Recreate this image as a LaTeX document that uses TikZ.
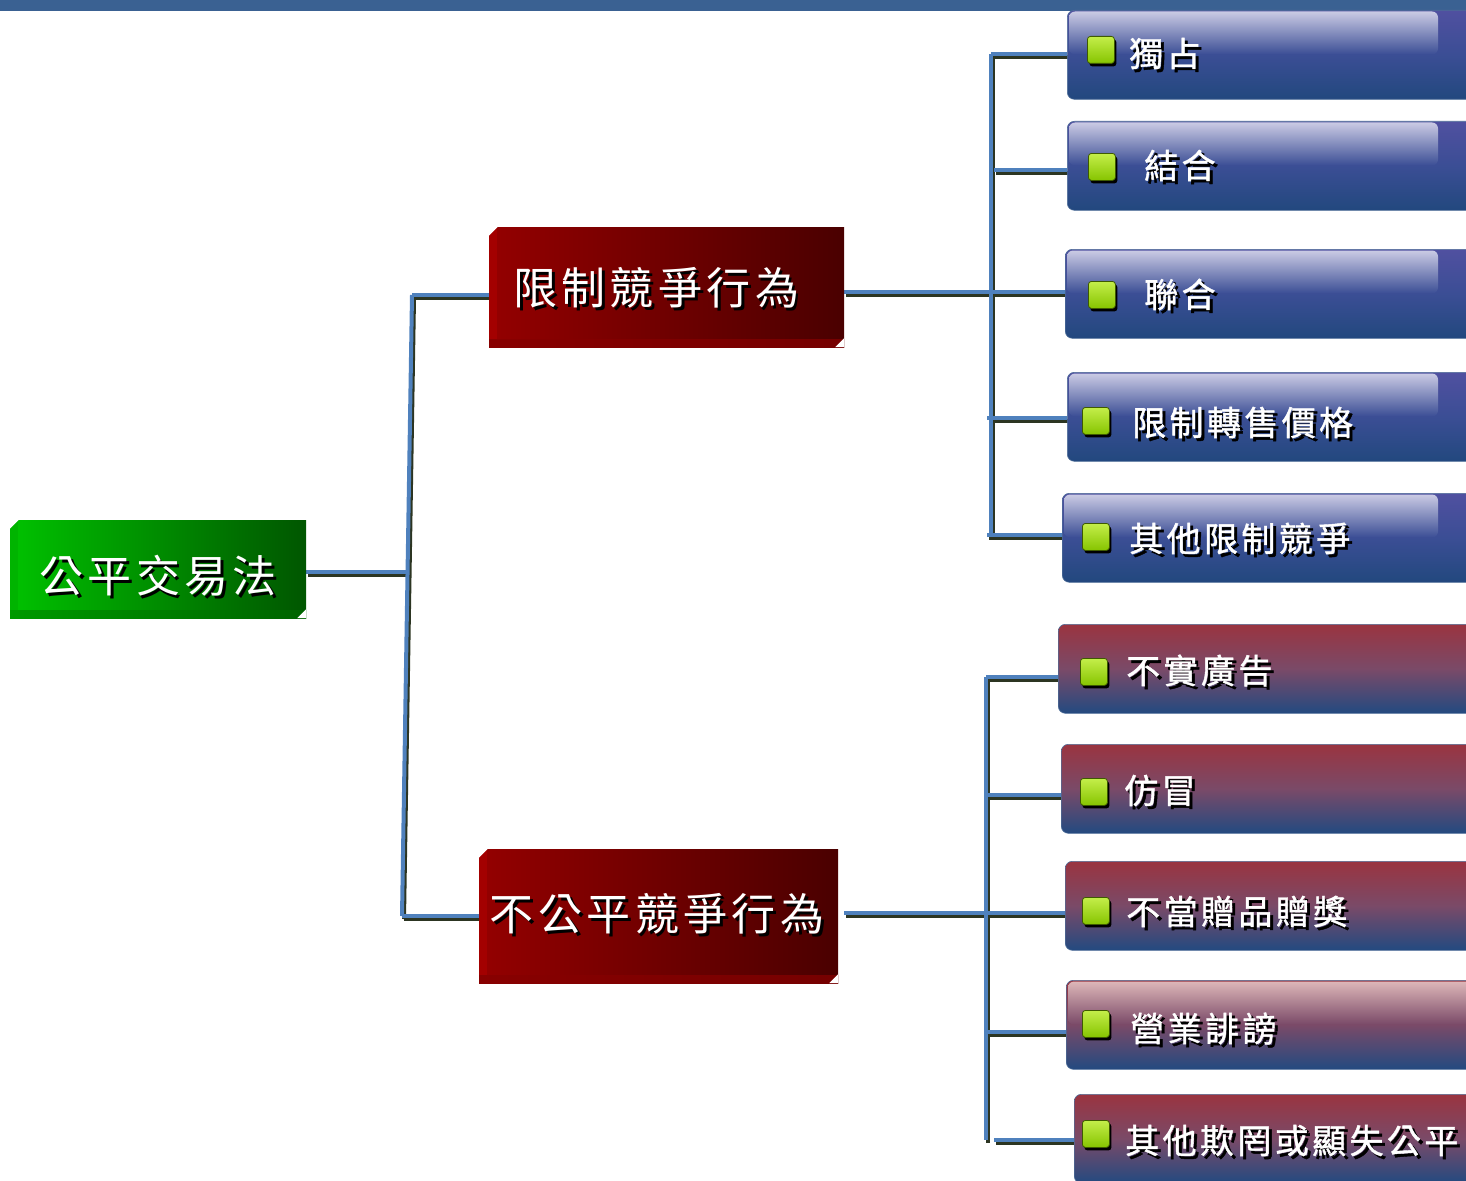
\documentclass[tikz,border=0pt]{standalone}
\usepackage{fontspec}
\usetikzlibrary{shadows,backgrounds}
\newfontfamily\cjkA[LetterSpace=10]{Noto Sans CJK TC}
\newfontfamily\cjkB[LetterSpace=10,FakeBold=1.2]{Noto Sans CJK TC}
\definecolor{topbar}{HTML}{3A6192}
\definecolor{conn}{HTML}{4F81BD}
\definecolor{connsh}{HTML}{2C3522}
\definecolor{gA}{HTML}{00C200}
\definecolor{gB}{HTML}{005600}
\definecolor{gL}{HTML}{00B400}
\definecolor{gBot}{HTML}{009A00}
\definecolor{rA}{HTML}{940000}
\definecolor{rB}{HTML}{4A0000}
\definecolor{rL}{HTML}{A30000}
\definecolor{rBot}{HTML}{880000}
\definecolor{lbT}{HTML}{5050A0}
\definecolor{lbM}{HTML}{3B4E95}
\definecolor{lbB}{HTML}{22487E}
\definecolor{glT}{HTML}{CACAE4}
\definecolor{lrT}{HTML}{9A3440}
\definecolor{lrM}{HTML}{7A4A68}
\definecolor{lrB}{HTML}{234A80}
\definecolor{pkT}{HTML}{DDB6B8}
\definecolor{bulT}{HTML}{C4EE4A}
\definecolor{bulB}{HTML}{86C400}
\definecolor{bulD}{HTML}{3E5A00}
\newcommand\shd[2][3pt]{\makebox[0pt][l]{\hspace{#1}\raisebox{-#1}{\color{black}#2}}\textcolor{white}{#2}}
\newcommand\leaf[4]{\node[#4, anchor=north west, minimum width={1490-#2}] (#1) at (#2,#3) {};}
\newcommand\bglo[3]{\shade[top color=#3, bottom color=lbM, rounded corners=6pt] ({#1+2},{#2+1.5}) rectangle (1438,{#2+44.5});}
\newcommand\rglo[3]{\shade[top color=#3, bottom color=lrM, rounded corners=6pt] ({#1+2},{#2+1.5}) rectangle (1472,{#2+44.5});}
\newcommand\chamfer[1]{%
  \fill[white] (#1.north west) -- ++(9,0) -- ++(-9,9) -- cycle;
  \fill[white] (#1.south east) -- ++(-9,0) -- ++(9,-9) -- cycle;}
\begin{document}
\begin{tikzpicture}[x=1pt,y=-1pt,
  bevelbox/.style={rectangle, inner sep=0},
  rootbox/.style={bevelbox, minimum width=296, minimum height=98, left color=gA, right color=gB,
    path picture={
      \shade[left color=gBot, right color=gB!80!gBot] (path picture bounding box.south west) rectangle ([yshift=8pt]path picture bounding box.south east);
      \fill[gL] (path picture bounding box.north west) rectangle ([xshift=8pt,yshift=8pt]path picture bounding box.south west);}},
  redbox/.style={bevelbox, left color=rA, right color=rB,
    path picture={
      \shade[left color=rBot, right color=rBot!70!rB] (path picture bounding box.south west) rectangle ([yshift=8pt]path picture bounding box.south east);
      \fill[rL] (path picture bounding box.north west) rectangle ([xshift=8pt,yshift=8pt]path picture bounding box.south west);}},
  leafB/.style={rectangle, rounded corners=7pt, inner sep=0, minimum height=89,
    top color=lbT, bottom color=lbB, middle color=lbM, draw=lbB!80!white, line width=0.6pt},
  leafR/.style={rectangle, rounded corners=7pt, inner sep=0, minimum height=89,
    top color=lrT, bottom color=lrB, middle color=lrM, draw=lrB!80!white, line width=0.6pt},
  bullet/.style={rectangle, rounded corners=3pt, minimum size=27, inner sep=0, anchor=north west,
    top color=bulT, bottom color=bulB, draw=bulD, line width=0.8pt,
    drop shadow={shadow xshift=2pt, shadow yshift=-3pt, opacity=1, fill=black}},
  biglbl/.style={font=\cjkA\fontsize{44}{50}\selectfont, inner sep=0},
  leaflbl/.style={font=\cjkB\fontsize{34}{40}\selectfont, inner sep=0, anchor=west},
  shline/.style={draw=connsh, line width=4pt, transform canvas={xshift=2pt,yshift=-3pt}},
  blline/.style={draw=conn, line width=4pt}]
\useasboundingbox (0,0) rectangle (1466,1180);
\clip (0,0) rectangle (1466,1180);

% main boxes
\node[rootbox] (root) at (158,569) {};
\node[redbox, minimum width=355, minimum height=120] (r1) at (666.5,287) {};
\node[redbox, minimum width=359, minimum height=134] (r2) at (658.5,916) {};
\chamfer{root}
\chamfer{r1}
\chamfer{r2}

\node[biglbl] (t0) at (158,577) {\shd{公平交易法}};
\node[biglbl] (t1) at (656,289) {\shd{限制競爭行為}};
\node[biglbl] (t2) at (657,915) {\shd{不公平競爭行為}};

% leaves
\leaf{L1}{1067}{10}{leafB}   \bglo{1067}{10}{glT}
\leaf{L2}{1067}{121}{leafB}  \bglo{1067}{121}{glT}
\leaf{L3}{1065}{249}{leafB}  \bglo{1065}{249}{glT}
\leaf{L4}{1067}{372}{leafB}  \bglo{1067}{372}{glT}
\leaf{L5}{1062}{493}{leafB}  \bglo{1062}{493}{glT}
\leaf{L6}{1058}{624}{leafR}
\leaf{L7}{1061}{744}{leafR}
\leaf{L8}{1065}{861}{leafR}
\leaf{L9}{1066}{980}{leafR}  \rglo{1066}{980}{pkT}
\leaf{L10}{1074}{1094}{leafR}

\node[bullet] (b1) at (1087,36) {};
\node[bullet] (b2) at (1088,153) {};
\node[bullet] (b3) at (1088,281) {};
\node[bullet] (b4) at (1082,407) {};
\node[bullet] (b5) at (1082,523) {};
\node[bullet] (b6) at (1080,658) {};
\node[bullet] (b7) at (1080,778) {};
\node[bullet] (b8) at (1082,897) {};
\node[bullet] (b9) at (1082,1010) {};
\node[bullet] (b10) at (1082,1120) {};

\node[leaflbl] (s1) at (1129,55) {\shd{獨占}};
\node[leaflbl] (s2) at (1144,167) {\shd{結合}};
\node[leaflbl] (s3) at (1144,296) {\shd{聯合}};
\node[leaflbl] (s4) at (1132,424) {\shd{限制轉售價格}};
\node[leaflbl] (s5) at (1129,540) {\shd{其他限制競爭}};
\node[leaflbl] (s6) at (1126,672) {\shd{不實廣告}};
\node[leaflbl] (s7) at (1124,792) {\shd{仿冒}};
\node[leaflbl] (s8) at (1126,913) {\shd{不當贈品贈獎}};
\node[leaflbl] (s9) at (1130,1030) {\shd{營業誹謗}};
\node[leaflbl] (s10) at (1125,1142) {\shd{其他欺罔或顯失公平}};

% junctions
\coordinate (jr) at (407.5,572);
\coordinate (ja) at (412,295);
\coordinate (jb) at (402,916);
\coordinate (k1) at (991,54);
\coordinate (k2) at (994,170);
\coordinate (k3) at (991,292);
\coordinate (k4) at (987,418);
\coordinate (k5) at (987,535);
\coordinate (kt) at (991,535);
\coordinate (m1) at (986,677);
\coordinate (m2) at (988,795);
\coordinate (m3) at (986,913);
\coordinate (m4) at (988,1032);
\coordinate (m5) at (994,1140);
\coordinate (mt) at (986,1140);

\newcommand\allconn[1]{%
  \draw[#1] (jr -| root.east) -- (jr);
  \draw[#1] (ja) -- (jb);
  \draw[#1] (ja) -- (ja -| r1.west);
  \draw[#1] (jb) -- (jb -| r2.west);
  \draw[#1] (k1) -- (kt);
  \draw[#1] (k3 -| r1.east) -- (k3) -- (k3 -| L3.west);
  \draw[#1] (k1) -- (k1 -| L1.west);
  \draw[#1] (k2) -- (k2 -| L2.west);
  \draw[#1] (k4) -- (k4 -| L4.west);
  \draw[#1] (k5) -- (k5 -| L5.west);
  \draw[#1] (m1) -- (mt);
  \draw[#1] ([xshift=6pt]m3 -| r2.east) -- (m3 -| L8.west);
  \draw[#1] (m1) -- (m1 -| L6.west);
  \draw[#1] (m2) -- (m2 -| L7.west);
  \draw[#1] (m4) -- (m4 -| L9.west);
  \draw[#1] (m5) -- (m5 -| L10.west);
}
\begin{pgfonlayer}{background}
  \fill[topbar] (0,0) rectangle (1466,11);
  \allconn{shline}
  \allconn{blline}
\end{pgfonlayer}
\end{tikzpicture}
\end{document}
